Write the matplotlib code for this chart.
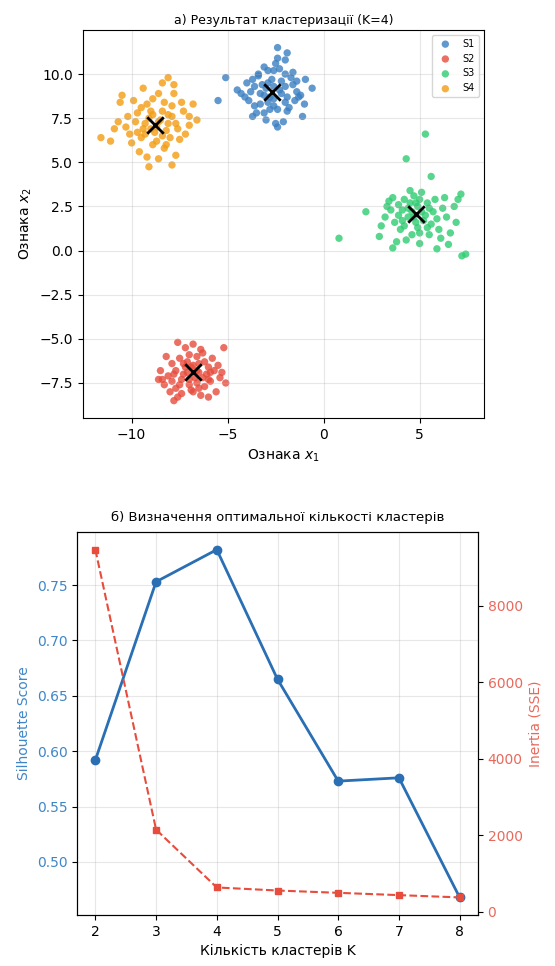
import matplotlib
matplotlib.use("Agg")
import matplotlib.pyplot as plt

# cluster points
S1_POINTS = [
    (-2.4, 11.5), (-1.9, 11.2), (-5.1, 9.8), (-5.5, 8.5), (-0.6, 9.2), (-0.95, 9.7),
    (-1.1, 7.6), (-2.4, 7.0), (-3.7, 7.6), (-2.5, 10.6), (-3.1, 10.4), (-2.0, 10.8),
    (-1.6, 10.1), (-3.4, 9.9), (-2.9, 9.5), (-2.2, 9.6), (-3.8, 9.0), (-4.1, 8.7),
    (-1.4, 9.0), (-2.6, 8.6), (-3.3, 8.3), (-2.0, 8.4), (-2.8, 8.0), (-1.8, 8.1),
    (-3.6, 9.3), (-2.3, 9.1), (-1.2, 8.8), (-3.0, 9.2), (-4.3, 8.9), (-2.7, 9.7),
    (-2.1, 7.3), (-3.5, 7.8), (-1.5, 8.5), (-2.9, 10.2), (-2.4, 10.9), (-3.2, 9.4),
    (-1.9, 7.9), (-4.0, 9.5), (-2.6, 8.2), (-1.7, 9.8), (-3.9, 8.5), (-2.2, 8.9),
    (-3.0, 7.4), (-2.5, 7.2), (-1.3, 8.7), (-3.4, 10.0), (-2.8, 8.7), (-2.0, 9.3),
    (-3.6, 8.2), (-2.3, 10.3), (-1.0, 8.3), (-4.5, 9.1), (-3.1, 8.8), (-2.6, 9.3),
    (-2.0, 10.0), (-1.6, 9.4), (-3.3, 8.9), (-2.9, 8.4), (-2.4, 8.0), (-1.9, 8.7),
    (-3.7, 9.7), (-2.6, 10.2), (-3.1, 7.8), (-1.4, 9.6),
]
S2_POINTS = [
    (-7.8, -8.5), (-5.2, -5.5), (-5.1, -7.5), (-7.6, -5.2), (-8.6, -7.3), (-6.0, -8.3),
    (-5.6, -8.0), (-7.2, -5.5), (-6.8, -5.3), (-6.4, -5.6), (-8.2, -6.0), (-7.9, -6.4),
    (-7.5, -6.1), (-7.1, -6.3), (-6.6, -6.0), (-6.2, -6.3), (-5.8, -6.1), (-5.5, -6.5),
    (-8.5, -6.8), (-8.1, -7.1), (-7.7, -6.8), (-7.3, -7.0), (-6.9, -6.6), (-6.5, -6.9),
    (-6.1, -7.0), (-5.7, -6.8), (-8.3, -7.6), (-7.9, -7.4), (-7.5, -7.6), (-7.0, -7.3),
    (-6.6, -7.5), (-6.2, -7.7), (-5.9, -7.4), (-8.0, -8.0), (-7.4, -8.1), (-6.9, -7.9),
    (-6.4, -8.2), (-7.6, -8.3), (-5.4, -7.2), (-6.0, -6.6), (-7.2, -6.6), (-6.7, -7.2),
    (-8.4, -7.3), (-5.3, -6.9), (-6.3, -5.8), (-7.0, -5.9), (-7.7, -7.8), (-6.5, -6.4),
    (-7.1, -6.9), (-6.8, -6.5), (-6.3, -7.2), (-7.4, -7.3), (-6.6, -6.8), (-7.0, -7.6),
    (-6.0, -7.3), (-7.3, -6.4), (-6.5, -7.8), (-5.9, -6.9), (-7.8, -7.0), (-6.8, -8.0),
]
S3_POINTS = [
    (5.3, 6.6), (4.3, 5.2), (0.8, 0.7), (2.2, 2.2), (5.6, 4.2), (7.2, -0.3),
    (7.4, -0.2), (3.6, 0.15), (7.15, 3.2), (6.5, 0.35), (2.9, 0.8), (4.7, 3.1),
    (5.8, 2.9), (6.2, 2.4), (3.4, 2.8), (3.9, 2.6), (4.1, 2.3), (4.4, 1.9),
    (4.9, 2.5), (5.2, 1.7), (5.6, 1.5), (3.7, 1.6), (4.0, 1.2), (4.6, 0.9),
    (5.0, 0.4), (5.5, 0.9), (6.0, 1.2), (3.2, 1.9), (3.5, 2.3), (4.2, 2.9),
    (5.4, 2.7), (6.4, 1.9), (6.8, 2.5), (7.0, 2.9), (6.6, 1.0), (4.8, 1.6),
    (4.5, 2.7), (5.1, 3.3), (3.8, 0.5), (4.3, 0.6), (5.9, 0.1), (6.3, 3.0),
    (3.0, 1.4), (4.9, 1.3), (5.7, 2.2), (4.1, 1.7), (5.3, 2.0), (6.1, 0.7),
    (3.6, 3.0), (4.6, 2.2), (5.0, 2.9), (6.9, 1.6), (4.4, 2.4), (5.1, 2.2),
    (4.7, 1.9), (3.9, 2.0), (5.5, 2.4), (4.2, 1.4), (5.0, 1.0), (4.5, 3.4),
    (5.9, 1.8), (3.3, 2.5), (4.8, 2.7), (5.4, 1.3),
]
S4_POINTS = [
    (-11.6, 6.4), (-11.1, 6.2), (-10.5, 8.8), (-10.6, 8.4), (-9.1, 4.75), (-7.9, 4.85),
    (-8.1, 9.8), (-8.4, 9.5), (-6.6, 7.4), (-7.8, 8.9), (-10.9, 6.9), (-10.2, 7.6),
    (-9.8, 7.3), (-9.5, 8.1), (-9.3, 6.6), (-9.0, 7.9), (-8.7, 6.2), (-8.5, 7.4),
    (-8.2, 6.8), (-7.9, 7.6), (-7.6, 6.9), (-7.3, 7.9), (-7.0, 7.1), (-6.8, 8.3),
    (-9.6, 5.6), (-9.2, 5.3), (-8.3, 5.8), (-7.7, 5.4), (-8.9, 8.6), (-8.6, 8.9),
    (-9.4, 6.9), (-8.0, 6.4), (-10.0, 6.1), (-9.7, 7.8), (-8.1, 7.2), (-7.5, 6.3),
    (-8.8, 6.7), (-9.1, 7.5), (-7.4, 8.4), (-10.3, 7.0), (-8.4, 7.9), (-9.9, 8.5),
    (-7.2, 6.6), (-8.6, 5.2), (-9.4, 9.2), (-7.8, 9.4), (-10.7, 7.3), (-8.9, 7.7),
    (-7.0, 7.6), (-9.5, 6.4), (-8.3, 8.4), (-8.7, 7.0), (-9.0, 6.9), (-8.4, 6.5),
    (-9.3, 7.2), (-8.1, 7.7), (-8.6, 7.3), (-9.7, 6.7), (-8.9, 6.0), (-7.7, 7.2),
    (-9.2, 8.3), (-8.2, 6.0), (-10.1, 6.6), (-7.9, 8.2),
]
CLUSTER_LABELS = ["S1", "S2", "S3", "S4"]
CLUSTER_COLORS = ["#3a7fc1", "#e74c3c", "#2ecc71", "#f39c12"]
CENTROIDS_X = [-2.7, -6.8, 4.8, -8.8]
CENTROIDS_Y = [9.0, -6.9, 2.05, 7.1]

# elbow / silhouette data
K_VALUES = [2, 3, 4, 5, 6, 7, 8]
SILHOUETTE = [0.592, 0.753, 0.782, 0.665, 0.573, 0.576, 0.468]
INERTIA = [9460, 2150, 640, 560, 500, 440, 380]

BLUE = "#2a6fb4"
BLUE_TEXT = "#3f86c8"
RED = "#e74c3c"
RED_TEXT = "#e8695c"


def plot_clusters(ax):
    groups = [S1_POINTS, S2_POINTS, S3_POINTS, S4_POINTS]
    for points, label, color in zip(groups, CLUSTER_LABELS, CLUSTER_COLORS):
        xs = [p[0] for p in points]
        ys = [p[1] for p in points]
        ax.scatter(xs, ys, s=28, color=color, alpha=0.8, label=label,
                   edgecolors="none")
    ax.scatter(CENTROIDS_X, CENTROIDS_Y, marker="x", s=140, color="black",
               linewidths=2, zorder=5)

    ax.set_title("а) Результат кластеризації (K=4)", fontsize=9, pad=4)
    ax.set_xlabel("Ознака $x_1$", fontsize=10)
    ax.set_ylabel("Ознака $x_2$", fontsize=10)
    ax.set_xticks([-10, -5, 0, 5])
    ax.set_yticks([-7.5, -5.0, -2.5, 0.0, 2.5, 5.0, 7.5, 10.0])
    ax.grid(True, alpha=0.3)
    ax.legend(loc="upper right", fontsize=7)


def plot_elbow(ax):
    ax.plot(K_VALUES, SILHOUETTE, "o-", color=BLUE, linewidth=2, markersize=6)
    ax.set_ylabel("Silhouette Score", color=BLUE_TEXT, fontsize=10)
    ax.tick_params(axis="y", labelcolor=BLUE_TEXT)
    ax.set_xlabel("Кількість кластерів K", fontsize=10)
    ax.set_xticks(K_VALUES)
    ax.set_yticks([0.50, 0.55, 0.60, 0.65, 0.70, 0.75])
    ax.grid(True, alpha=0.3)
    ax.set_title("б) Визначення оптимальної кількості кластерів", fontsize=9.5,
                 pad=8)

    ax2 = ax.twinx()
    ax2.plot(K_VALUES, INERTIA, "s--", color=RED, linewidth=1.5, markersize=5)
    ax2.set_ylabel("Inertia (SSE)", color=RED_TEXT, fontsize=10)
    ax2.tick_params(axis="y", labelcolor=RED_TEXT)
    ax2.set_yticks([0, 2000, 4000, 6000, 8000])


def main():
    fig = plt.figure(figsize=(5.55, 9.66), dpi=100)
    ax_top = fig.add_axes([0.149, 0.567, 0.723, 0.402])
    ax_bottom = fig.add_axes([0.139, 0.053, 0.722, 0.396])

    plot_clusters(ax_top)
    plot_elbow(ax_bottom)

    fig.savefig("out.png", dpi=100)


if __name__ == "__main__":
    main()
